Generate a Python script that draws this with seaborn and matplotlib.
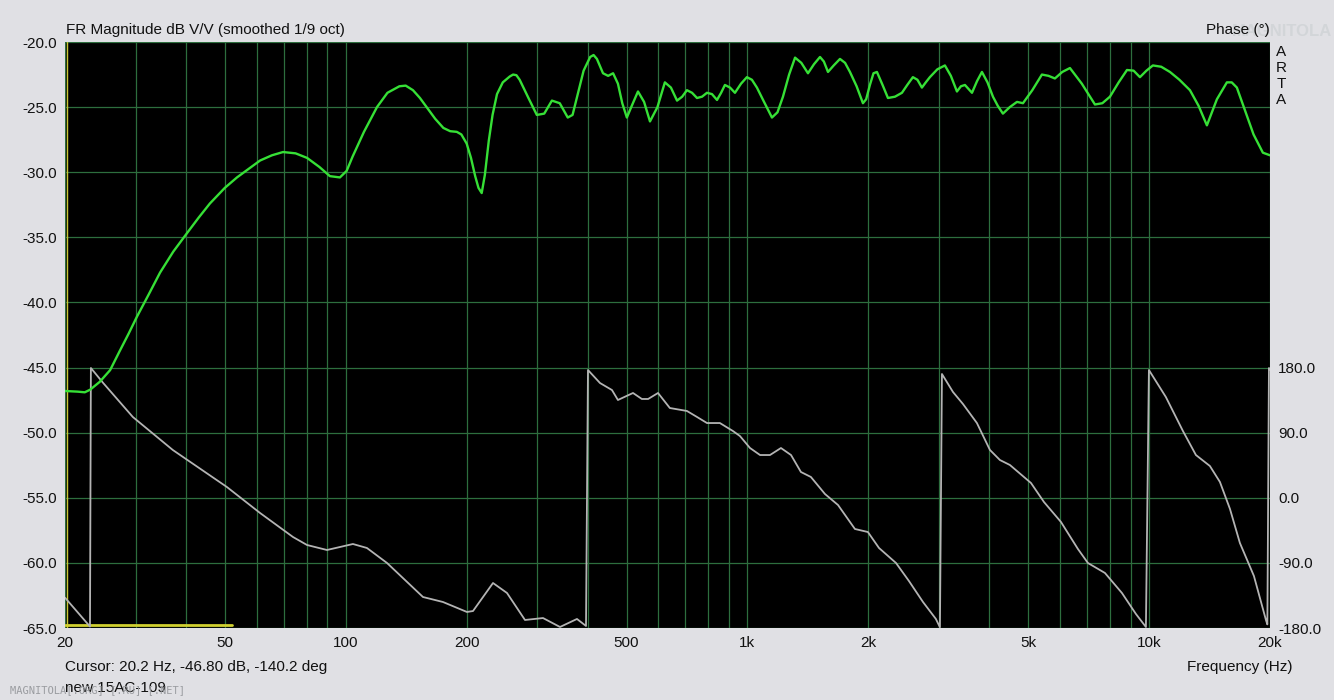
import matplotlib
matplotlib.use("Agg")
import matplotlib.pyplot as plt
import matplotlib.ticker as mticker
import seaborn as sns
import pandas as pd

# ---------------- data ----------------
mag_freq = [20, 21.5, 22.4, 23.1, 24.4, 25.9, 27.4, 28.8, 30.2, 32.3, 34.5, 37.2, 40.2, 43,
            45.9, 50, 53.6, 57, 61.2, 65.5, 69.8, 75, 80.1, 86, 91.3, 96.7, 100.5, 104, 111,
            119.6, 127, 136, 141, 147, 153, 159, 167, 175, 182, 189, 194, 200, 205, 210, 214,
            218, 222, 227, 232, 238, 246, 256, 261, 266, 271, 285, 299, 312, 326, 341, 357,
            367, 376, 391, 406, 414, 422, 430, 437, 450, 463, 476, 488, 501, 517, 534, 553,
            572, 597, 623, 645, 668, 688, 707, 728, 749, 771, 793, 816, 840, 860, 879, 905,
            931, 964, 997, 1026, 1056, 1100, 1151, 1188, 1226, 1270, 1314, 1362, 1415, 1465,
            1516, 1550, 1587, 1640, 1700, 1750, 1800, 1870, 1939, 1975, 2018, 2060, 2101, 2170,
            2238, 2330, 2425, 2500, 2582, 2650, 2719, 2780, 2846, 2970, 3102, 3210, 3324, 3400,
            3480, 3550, 3623, 3730, 3836, 3960, 4086, 4200, 4326, 4500, 4689, 4853, 5120, 5410,
            5620, 5828, 6080, 6353, 6800, 7332, 7650, 7990, 8400, 8810, 9150, 9490, 9850,
            10220, 10720, 11270, 11900, 12640, 13280, 13930, 14750, 15620, 16060, 16540,
            17300, 18200, 19200, 20000]
mag_db = [-46.8, -46.85, -46.9, -46.7, -46.1, -45.2, -43.7, -42.4, -41.1, -39.4, -37.7, -36.1,
          -34.7, -33.5, -32.4, -31.2, -30.4, -29.8, -29.1, -28.7, -28.45, -28.55, -28.9, -29.6,
          -30.3, -30.4, -29.9, -28.8, -26.9, -25.0, -23.9, -23.4, -23.35, -23.7, -24.3, -25.0,
          -25.9, -26.6, -26.85, -26.9, -27.1, -27.8, -28.9, -30.3, -31.2, -31.6, -30.2, -27.6,
          -25.6, -24.0, -23.1, -22.65, -22.5, -22.55, -22.9, -24.3, -25.6, -25.5, -24.5, -24.7,
          -25.8, -25.6, -24.3, -22.2, -21.15, -21.0, -21.3, -21.9, -22.4, -22.6, -22.4, -23.2,
          -24.7, -25.8, -24.8, -23.8, -24.6, -26.1, -25.0, -23.1, -23.5, -24.5, -24.2, -23.7,
          -23.9, -24.3, -24.2, -23.9, -24.0, -24.45, -23.9, -23.3, -23.5, -23.9, -23.2, -22.7,
          -22.9, -23.5, -24.6, -25.8, -25.4, -24.2, -22.5, -21.2, -21.6, -22.4, -21.7, -21.15,
          -21.5, -22.3, -21.8, -21.3, -21.6, -22.3, -23.4, -24.7, -24.4, -23.3, -22.4, -22.3,
          -23.3, -24.3, -24.2, -23.9, -23.3, -22.7, -22.9, -23.5, -23.1, -22.7, -22.1, -21.8,
          -22.6, -23.8, -23.4, -23.3, -23.6, -23.9, -23.0, -22.3, -23.1, -24.2, -24.9, -25.5,
          -25.0, -24.6, -24.7, -23.7, -22.5, -22.6, -22.8, -22.3, -22.0, -23.2, -24.8, -24.7,
          -24.2, -23.1, -22.15, -22.2, -22.7, -22.2, -21.8, -21.9, -22.3, -22.9, -23.7, -24.9,
          -26.4, -24.4, -23.1, -23.1, -23.5, -25.2, -27.1, -28.5, -28.7]

phase_freq = [20, 23.08, 23.2, 24.9, 29.5, 37.1, 50.6, 61.2, 73.9, 80.1, 89.8, 104.2, 112.9,
              126.7, 155.7, 174.6, 200.3, 207.4, 232.6, 252, 279.4, 309.8, 341.5, 376.4, 396.4,
              400.9, 429.5, 460, 476, 519, 546, 566, 599, 641, 707, 749, 793, 854, 920, 958,
              1015, 1075, 1138, 1212, 1284, 1359, 1439, 1560, 1681, 1852, 1995, 2126, 2344,
              2524, 2736, 2946, 3015, 3050, 3249, 3440, 3727, 4016, 4252, 4503, 5081, 5473,
              6034, 6650, 7042, 7764, 8558, 9274, 9820, 9990, 11010, 12140, 13080, 14170,
              15010, 15900, 16830, 18240, 19540, 19700, 19880, 20000]
phase_deg = [-138.0, -178.0, 180.0, 159.2, 112.2, 66.5, 15.2, -20.8, -54.0, -65.1, -72.0, -63.7,
             -69.2, -90.0, -137.1, -144.0, -157.8, -156.5, -117.7, -131.5, -168.9, -166.2,
             -178.6, -167.5, -177.2, 177.2, 159.2, 149.5, 135.7, 145.4, 137.1, 137.1, 145.4,
             124.6, 120.5, 112.2, 103.8, 103.8, 92.8, 85.8, 69.2, 59.5, 59.5, 69.2, 59.5, 36.0,
             29.1, 5.5, -9.7, -42.9, -47.1, -69.2, -90.0, -114.9, -144.0, -167.5, -179.0,
             171.7, 146.8, 130.2, 103.8, 66.5, 52.6, 45.7, 20.8, -5.5, -33.2, -70.6, -90.0,
             -103.8, -131.5, -160.6, -178.6, 177.2, 139.8, 92.8, 59.5, 44.3, 22.2, -15.2,
             -62.3, -108.0, -168.9, -175.0, 180.0, 178.0]

window_freq = [20, 52.1]
window_db = [-64.8, -64.8]

x_tick_vals = [20, 50, 100, 200, 500, 1000, 2000, 5000, 10000, 20000]
x_tick_labels = ["20", "50", "100", "200", "500", "1k", "2k", "5k", "10k", "20k"]
y_tick_vals = [-20, -25, -30, -35, -40, -45, -50, -55, -60, -65]
phase_tick_vals = [-180, -90, 0, 90, 180]

# ---------------- styling ----------------
sns.set_theme(style="dark")
plt.rcParams["font.family"] = ["Liberation Sans", "DejaVu Sans"]
BG = "#e0e0e4"
GRID = "#2d6e3e"
TXT = "#111111"

fig = plt.figure(figsize=(13.34, 7.0), dpi=100, facecolor=BG)
ax = fig.add_axes([65 / 1334, 1 - 628 / 700, 1205 / 1334, 586 / 700])
ax.set_facecolor("black")
ax2 = ax.twinx()

mag_df = pd.DataFrame({"f": mag_freq, "db": mag_db})
ph_df = pd.DataFrame({"f": phase_freq, "deg": phase_deg})
win_df = pd.DataFrame({"f": window_freq, "db": window_db})

ax.set_xscale("log")
ax.set_xlim(20, 20000)
ax.set_ylim(-65, -20)
ax2.set_ylim(-180, -180 + 360 * 586 / 260)

# cursor line and window bar
ax.axvline(20.2, color="#c8c832", linewidth=1.0, zorder=3)
sns.lineplot(data=win_df, x="f", y="db", ax=ax, color="#d0d030", linewidth=2.0,
             estimator=None, sort=False, legend=False, zorder=4)

sns.lineplot(data=ph_df, x="f", y="deg", ax=ax2, color="#b4b4b4", linewidth=1.3,
             estimator=None, sort=False, legend=False, zorder=3)
sns.lineplot(data=mag_df, x="f", y="db", ax=ax2, color="#36e036", linewidth=1.7,
             estimator=None, sort=False, legend=False, zorder=5,
             transform=ax.transData, solid_joinstyle="round")

ax2.set_ylim(-180, -180 + 360 * 586 / 260)
ax.set_xlim(20, 20000)
ax.set_ylim(-65, -20)

# ticks / grid (after plotting so nothing resets them)
minor = [v * m for m in (10, 100, 1000) for v in range(2, 10)]
minor = [m for m in minor if 20 <= m <= 20000 and m not in x_tick_vals]
ax.xaxis.set_major_locator(mticker.FixedLocator(x_tick_vals))
ax.xaxis.set_major_formatter(mticker.FixedFormatter(x_tick_labels))
ax.xaxis.set_minor_locator(mticker.FixedLocator(minor))
ax.xaxis.set_minor_formatter(mticker.NullFormatter())
ax.set_yticks(y_tick_vals)
ax.set_yticklabels([f"{v:.1f}" for v in y_tick_vals])
ax.grid(True, which="both", axis="x", color=GRID, linewidth=0.9)
ax.grid(True, which="major", axis="y", color=GRID, linewidth=0.9)
ax.set_axisbelow(True)
ax.tick_params(axis="both", which="both", length=0, labelsize=11, colors=TXT, pad=6)
for s in ax.spines.values():
    s.set_visible(False)
ax.set_xlabel("")
ax.set_ylabel("")

ax2.set_yticks(phase_tick_vals)
ax2.set_yticklabels([f"{v:.1f}" for v in phase_tick_vals])
ax2.tick_params(axis="y", length=0, labelsize=11, colors=TXT, pad=6)
ax2.grid(False)
for s in ax2.spines.values():
    s.set_visible(False)
ax2.set_xlabel("")
ax2.set_ylabel("")

# texts
fig.text(66 / 1334, 1 - 30 / 700, "FR Magnitude dB V/V (smoothed 1/9 oct)", fontsize=11,
         color=TXT, va="center", ha="left")
fig.text(1232 / 1334, 1 - 31 / 700, "MAGNITOLA", fontsize=12, color="#d2d5d8", va="center",
         ha="left", fontweight="bold", zorder=0)
fig.text(1270 / 1334, 1 - 30 / 700, "Phase (°)", fontsize=11, color=TXT, va="center",
         ha="right", zorder=2)
for i, ch in enumerate("ARTA"):
    fig.text(1281 / 1334, 1 - (52 + i * 16) / 700, ch, fontsize=11, color=TXT,
             va="center", ha="center")
fig.text(65 / 1334, 1 - 667 / 700, "Cursor: 20.2 Hz, -46.80 dB, -140.2 deg", fontsize=11,
         color=TXT, va="center", ha="left")
fig.text(65 / 1334, 1 - 688 / 700, "new 15AC-109", fontsize=11, color=TXT, va="center", ha="left")
fig.text(10 / 1334, 1 - 690 / 700, "MAGNITOLA[.ORG] [.RU] [.NET]", fontsize=7.5,
         color="#9a9ca0", va="center", ha="left", family="DejaVu Sans Mono")
fig.text(1240 / 1334, 1 - 667 / 700, "Frequency (Hz)", fontsize=11, color=TXT,
         va="center", ha="center")

fig.savefig("out.png", dpi=100, facecolor=BG)
